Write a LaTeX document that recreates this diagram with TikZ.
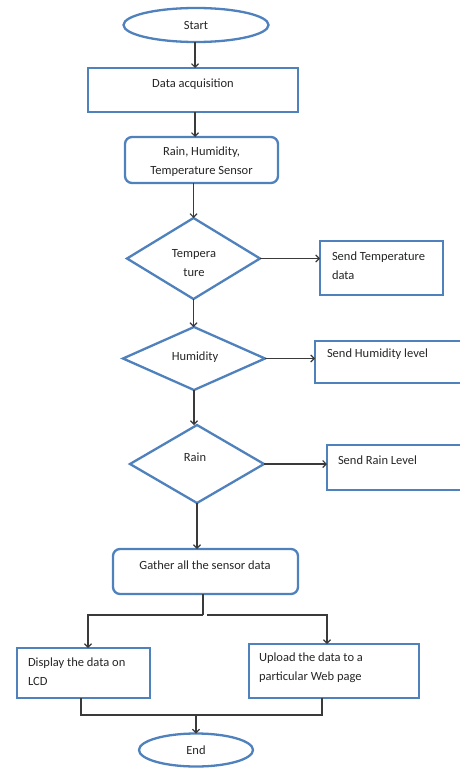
\documentclass[tikz,border=0pt]{standalone}
\usepackage{fontspec}
\setmainfont{Carlito}
\usetikzlibrary{shapes.geometric,arrows.meta}
\definecolor{bl}{HTML}{4F81BD}
\definecolor{lnc}{HTML}{3A3A3A}
\begin{document}
\begin{tikzpicture}[x=1pt,y=-1pt,
  every node/.style={inner sep=0pt, outer sep=0pt},
  box/.style={draw=bl, line width=2.3pt, fill=white},
  rbox/.style={box, rounded corners=7pt},
  oval/.style={ellipse, box},
  dia/.style={diamond, box},
  txt/.style={font=\fontsize{12.5}{19}\selectfont, text=black!85},
  arr/.style={draw=lnc, line width=1.1pt, -{Straight Barb[length=3.5pt,width=7pt]}},
  lnk/.style={draw=lnc, line width=1.1pt}]
\useasboundingbox (0,0) rectangle (460,768);
\fill[white] (0,0) rectangle (460,768);
\coordinate (cx) at (195,0);
% main column
\node[oval, txt, minimum width=145pt, minimum height=34pt] (start) at (196,25) {Start};
\node[box, minimum width=210pt, minimum height=44pt] (acq) at (193,90) {};
\node[txt] (acqT) at (193,84) {Data acquisition};
\node[rbox, minimum width=153pt, minimum height=46pt] (sens) at (201.5,160) {};
\node[txt, align=center] (sensT) at (201.5,162) {Rain, Humidity,\\Temperature Sensor};
\node[dia, minimum width=133pt, minimum height=81pt] (temp) at (193.5,258.5) {};
\node[txt, align=center] (tempT) at (194,263) {Tempera\\ture};
\node[dia, minimum width=142pt, minimum height=63pt] (hum) at (194,358.5) {};
\node[txt] (humT) at (195,357) {Humidity};
\node[dia, minimum width=134pt, minimum height=78pt] (rain) at (197,464) {};
\node[txt] (rainT) at (195,457) {Rain};
% side boxes
\node[box, minimum width=123pt, minimum height=54pt] (stemp) at (381.5,268) {};
\node[txt, align=left, anchor=west] (stempT) at (332,265.5) {Send Temperature\\data};
\node[box, minimum width=147pt, minimum height=42pt] (shum) at (388.5,362) {};
\node[txt, anchor=west] (shumT) at (327,354) {Send Humidity level};
\node[box, minimum width=135pt, minimum height=45pt] (srain) at (394.5,467.5) {};
\node[txt, anchor=west] (srainT) at (338,460) {Send Rain Level};
% lower part
\node[rbox, minimum width=185pt, minimum height=45pt] (gath) at (205.5,571.5) {};
\node[txt] (gathT) at (205,565) {Gather all the sensor data};
\node[box, minimum width=133pt, minimum height=50pt] (disp) at (83.5,673) {};
\node[txt, align=left, anchor=west] (dispT) at (28,672) {Display the data on\\LCD};
\node[box, minimum width=170pt, minimum height=54pt] (up) at (334,671) {};
\node[txt, align=left, anchor=west] (upT) at (259,667.5) {Upload the data to a\\particular Web page};
\node[oval, txt, minimum width=114pt, minimum height=33pt] (end) at (196,750) {End};
% connectors
\draw[arr] (start.south -| cx) -- (acq.north -| cx);
\draw[arr] (acq.south -| cx) -- (sens.north -| cx);
\draw[arr] (sens.south -| temp.north) -- (temp.north);
\draw[arr] (temp.south) -- (temp.south |- hum.north);
\draw[arr] (hum.south) -- (hum.south |- rain.north);
\draw[arr] (rain.south) -- (rain.south |- gath.north);
\draw[arr] (temp.east) -- (temp.east -| stemp.west);
\draw[arr] (hum.east) -- (hum.east -| shum.west);
\draw[arr] (rain.east) -- (rain.east -| srain.west);
\coordinate (sp) at (203,615);
\coordinate (dl) at (88,615);
\coordinate (sr) at (207,615);
\coordinate (ur) at (327,615);
\draw[lnk] (gath.south -| sp) -- (sp);
\draw[arr] (sp) -- (dl) -- (dl |- disp.north);
\draw[arr] (sr) -- (ur) -- (ur |- up.north);
\coordinate (bl) at (81,715);
\coordinate (br) at (322,715);
\draw[lnk] (disp.south -| bl) -- (bl) -- (br) -- (up.south -| br);
\draw[arr] (end.north |- bl) -- (end.north);
\end{tikzpicture}
\end{document}
